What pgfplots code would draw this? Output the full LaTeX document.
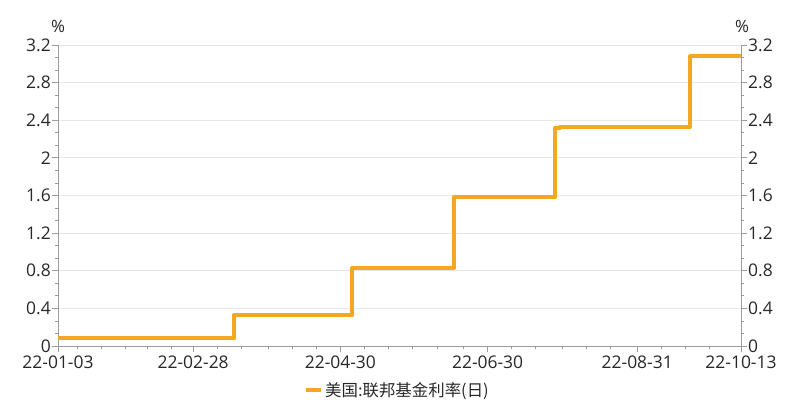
\documentclass[border=0pt]{standalone}
\usepackage{fontspec}
\setmainfont{Open Sans}
\newfontfamily\cjk{Noto Sans CJK SC}
\usepackage{pgfplots}
\pgfplotsset{compat=1.18}
\definecolor{fedorange}{RGB}{245,166,35}
\definecolor{axisgray}{RGB}{155,155,155}
\definecolor{gridgray}{RGB}{232,232,232}
\definecolor{labelgray}{RGB}{40,40,40}

% days counted from 2022-01-03
\pgfplotsset{
  fedbase/.style={
    at={(0bp,0bp)}, anchor=south west,
    scale only axis, width=683bp, height=301bp,
    xmin=0, xmax=283, ymin=0, ymax=3.2,
    ytick={0,0.4,0.8,1.2,1.6,2,2.4,2.8,3.2},
    minor y tick num=2,
    tick align=outside,
    major tick length=6bp, minor tick length=3bp,
    every tick/.style={axisgray, line width=0.8bp},
    axis line style={axisgray, line width=0.9bp, -},
    /pgf/number format/assume math mode=true,
    ticklabel style={font=\fontsize{17.5}{20}\selectfont, text=labelgray},
  },
}

\begin{document}
\begin{tikzpicture}
\path[use as bounding box] (-58bp,-64bp) rectangle (742bp,346bp);

\begin{axis}[fedbase,
    axis x line*=bottom, axis y line*=left,
    xtick={0,56,117,178,240,283},
    xticklabels={22-01-03,22-02-28,22-04-30,22-06-30,22-08-31,22-10-13},
    minor xtick={8,18,28,37,47,66,76,87,97,107,127,137,147,157,168,188,198,209,219,229,250,260,270},
    ymajorgrids, grid style={gridgray, line width=0.8bp},
    yticklabel style={inner sep=1bp},
    xticklabel style={inner sep=1bp, yshift=-3bp},
    legend style={at={(rel axis cs:0.497,-0.146)}, anchor=center,
      draw=none, fill=none, font=\cjk\fontsize{16.5}{19}\selectfont,
      text=labelgray},
    legend image code/.code={\draw[line width=4bp] (0bp,0bp) -- (15bp,0bp);},
  ]
\addplot[const plot, fedorange, line width=4bp, line join=round]
  coordinates {(0,0.08) (73,0.33) (122,0.83) (164,1.58) (206,2.32) (208,2.33) (262,3.08) (283,3.08)};
\addlegendentry{美国:联邦基金利率(日)}
\end{axis}

\begin{axis}[fedbase,
    axis x line=none, axis y line*=right,
    yticklabel style={inner sep=1bp},
  ]
\end{axis}

\node[font=\fontsize{17}{19}\selectfont, text=labelgray] at (0bp,320bp) {\%};
\node[font=\fontsize{17}{19}\selectfont, text=labelgray] at (684bp,320bp) {\%};
\end{tikzpicture}
\end{document}
